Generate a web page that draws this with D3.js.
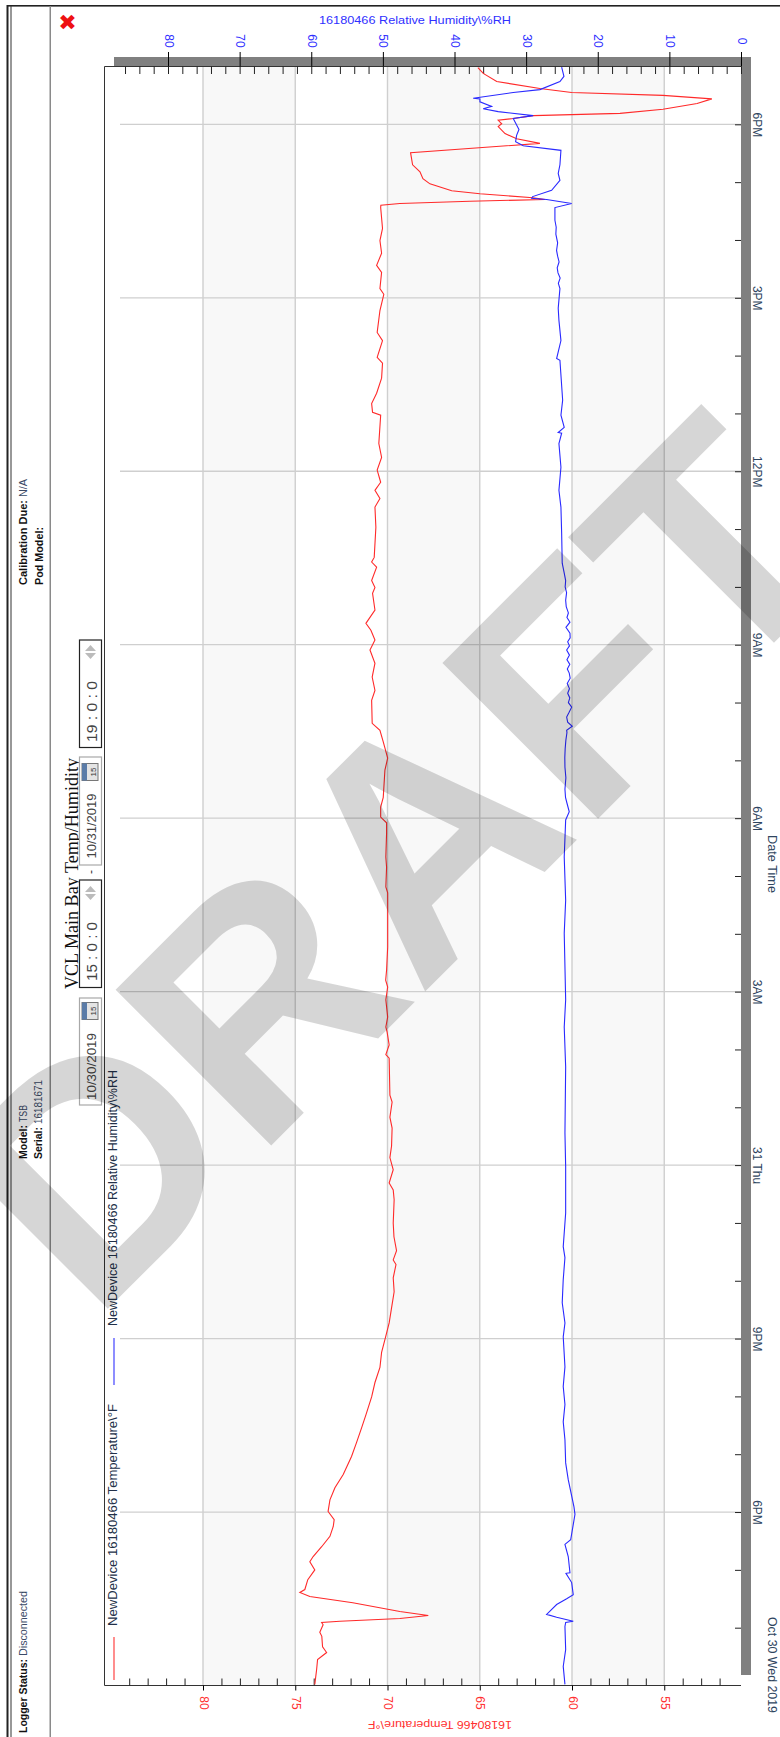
<!DOCTYPE html>
<html><head><meta charset="utf-8">
<script src="https://cdn.jsdelivr.net/npm/d3@7/dist/d3.min.js"></script>
<style>html,body{margin:0;padding:0;background:#fff;overflow:hidden}svg{display:block}text{font-family:"Liberation Sans",Arial,sans-serif}</style>
</head><body><div id="c"></div>
<script>
// hours since 10/30/2019 15:00
const tempHours=[.02,.28,.45,.57,.67,.85,.92,1.05,1.09,1.11,1.16,1.21,1.28,1.43,1.54,1.61,1.66,1.83,2.00,2.14,2.23,2.40,2.58,2.75,2.87,3.01,3.21,3.42,3.65,3.96,4.20,4.46,4.68,4.99,5.24,5.50,5.76,5.98,6.27,6.53,6.81,7.05,7.28,7.36,7.52,7.76,8.00,8.40,8.57,8.69,8.92,9.13,9.33,9.64,9.83,10.09,10.21,10.85,10.91,11.08,11.30,11.39,11.56,11.86,12.08,12.20,12.37,12.77,13.71,13.81,14.15,14.33,14.74,14.92,15.02,15.19,15.36,15.83,16.04,16.32,16.52,16.64,17.04,17.21,17.44,17.68,17.91,18.08,18.25,18.37,18.60,18.89,18.99,19.11,19.34,19.43,19.51,20.03,20.38,20.53,20.67,20.81,21.02,21.24,21.48,21.97,22.02,22.17,22.35,22.61,22.87,22.97,23.26,23.40,23.78,24.06,24.16,24.44,24.56,24.77,24.99,25.20,25.56,25.60,25.63,25.67,25.70,25.73,25.80,25.85,25.97,26.06,26.18,26.30,26.51,26.67,26.75,26.84,26.96,27.01,27.07,27.10,27.15,27.19,27.26,27.36,27.44,27.50,27.55,27.62,27.74,27.88,27.98];
const tempValues=[73.94,73.84,73.79,73.30,73.52,73.56,73.67,73.49,73.57,72.58,69.33,67.79,69.33,71.88,74.21,74.75,74.48,74.32,73.94,74.21,74.03,73.57,73.12,72.94,72.89,73.22,73.12,72.85,72.40,71.95,71.68,71.40,71.17,70.86,70.68,70.41,70.32,70.14,69.91,69.78,69.64,69.69,69.54,69.69,69.51,69.65,69.69,69.64,69.69,69.91,69.69,69.87,69.78,69.75,69.87,69.75,69.87,69.91,70.09,69.91,70.02,70.09,69.99,70.09,69.99,70.10,70.05,69.99,69.99,70.09,70.05,70.09,70.05,70.05,70.37,70.37,70.23,70.14,69.99,70.23,70.41,70.83,70.86,70.68,70.83,70.68,70.95,70.68,70.90,71.17,70.68,70.81,70.68,70.86,70.59,70.86,70.72,70.63,70.68,70.41,70.68,70.37,70.56,70.32,70.47,70.37,70.81,70.86,70.59,70.32,70.27,70.56,70.27,70.56,70.41,70.20,70.41,70.32,70.59,70.32,70.41,70.27,70.37,70.36,69.33,65.53,61.46,62.11,64.99,66.52,67.70,68.08,68.24,68.64,68.75,61.74,63.00,63.63,64.00,63.81,64.00,63.18,62.10,57.40,55.07,53.22,52.42,55.07,60.02,61.74,64.08,64.81,65.10];
const humHours=[.02,.33,.62,1.02,1.09,1.11,1.18,1.23,1.40,1.50,1.57,1.78,1.94,1.95,2.23,2.44,2.52,2.96,3.09,3.56,3.85,4.25,4.56,4.86,5.17,5.51,6.03,6.27,6.62,7.02,7.40,7.59,8.17,8.69,8.97,9.56,10.70,11.39,11.86,13.01,13.58,14.33,14.97,15.11,15.28,
15.36,15.5,15.7,15.88,16.05,16.2,16.35,16.48,16.52,16.59,16.66,16.75,16.83,16.92,17.0,17.08,17.16,17.24,17.33,17.42,17.51,17.58,17.66,17.74,17.82,17.91,17.98,18.05,18.12,18.20,18.30,18.39,18.47,18.55,18.66,18.77,18.9,19.0,19.11,19.25,
19.41,19.93,20.38,20.67,21.07,21.48,21.66,21.67,21.76,21.97,22.23,22.92,22.95,23.26,23.61,23.82,
24.16,24.25,24.34,24.43,24.52,24.62,24.72,24.82,24.95,25.1,25.22,25.34,
25.56,25.63,25.70,25.72,25.75,25.86,26.03,26.15,26.30,26.55,26.63,26.70,26.81,26.91,27.10,27.15,27.22,27.27,27.31,27.39,27.44,27.45,27.55,27.60,27.74,27.83,27.99];
const humValues=[24.58,24.82,24.48,24.58,24.48,23.42,25.74,27.14,25.74,24.34,23.42,23.64,24.44,23.88,24.12,24.58,23.78,23.18,23.32,24.12,24.48,24.58,24.82,24.58,24.82,24.58,24.82,24.58,24.96,24.82,24.58,24.82,24.48,24.48,24.48,24.58,24.48,24.68,24.48,24.68,24.48,24.68,24.48,23.98,24.34,
24.50,24.58,24.45,24.58,24.6,24.55,24.45,24.3,24.34,23.56,24.2,24.34,24.0,23.64,24.1,23.9,24.2,23.95,24.26,23.85,23.98,24.25,23.9,24.3,23.95,24.34,23.95,24.2,23.85,23.88,24.44,23.88,24.3,24.1,24.4,24.48,24.35,24.55,24.48,24.7,
24.96,25.04,25.14,25.42,25.14,25.42,25.04,25.52,24.68,25.14,24.90,25.28,25.74,25.14,25.42,25.52,
25.28,25.5,25.25,25.55,25.66,25.4,25.6,25.75,25.6,25.85,25.8,25.98,
25.98,23.64,27.14,29.23,29.09,26.44,25.28,25.52,25.28,25.14,30.40,31.47,31.33,31.00,31.80,29.01,33.90,35.99,34.82,36.45,36.45,37.39,31.80,28.07,25.28,24.72,25.04];
const tempMajor=[80,75,70,65,60,55];
const humMajor=[80,70,60,50,40,30,20,10,0];
const timeLabels=["","6PM","9PM","31 Thu","3AM","6AM","9AM","12PM","3PM","6PM"];
const bandPairs=[[80,75],[70,65],[60,55]];
const legendItems=[["NewDevice 16180466 Temperature\\°F","#ff3030"],["NewDevice 16180466 Relative Humidity\\%RH","#3030ff"]];

const W=780,H=1737,L=104.5,R=741,T=66.5,B=1685.5;
const svg=d3.select("#c").append("svg").attr("width",W).attr("height",H);
svg.append("rect").attr("width",W).attr("height",H).attr("fill","#fff");

const tScale=d3.scaleLinear().domain([60,80]).range([572,203]);
const hScale=d3.scaleLinear().domain([0,80]).range([741,168]);
const t0=new Date(2019,9,30,15);
const at=h=>new Date(+t0+h*3600e3);
const yScale=d3.scaleTime().domain([t0,at(28)]).range([B,T]);

function vtext(x,y,s,o){
  const t=svg.append("text").attr("transform",`translate(${x},${y}) rotate(${o.rot||0})`).text(s)
   .attr("text-anchor",o.anchor||"start").attr("dominant-baseline",o.base||"central")
   .attr("font-size",o.size||12).attr("fill",o.fill||"#223");
  if(o.family)t.style("font-family",o.family);
  if(o.weight)t.attr("font-weight",o.weight);
  if(o.len)t.attr("textLength",o.len).attr("lengthAdjust","spacingAndGlyphs");
  return t;
}
// page chrome
svg.append("rect").attr("x",7).attr("y",5).attr("width",W).attr("height",1.6).attr("fill","#222");
svg.append("rect").attr("x",6.5).attr("y",5).attr("width",2).attr("height",H).attr("fill","#222");
svg.append("rect").attr("x",10.5).attr("y",6).attr("width",1).attr("height",H).attr("fill","#333");
svg.append("rect").attr("x",49.5).attr("y",6).attr("width",1.5).attr("height",H).attr("fill","#8a8a8a");

// bands & grid
bandPairs.forEach(p=>svg.append("rect").attr("x",tScale(p[0])).attr("width",tScale(p[1])-tScale(p[0])).attr("y",T).attr("height",B-T).attr("fill","#f8f8f8"));
tempMajor.forEach(v=>svg.append("line").attr("x1",tScale(v)).attr("x2",tScale(v)).attr("y1",T).attr("y2",B).attr("stroke","#cfcfcf").attr("stroke-width",1.4));
d3.timeHour.range(at(3),at(28),3).forEach(d=>svg.append("line").attr("x1",120).attr("x2",R).attr("y1",yScale(d)).attr("y2",yScale(d)).attr("stroke","#cfcfcf").attr("stroke-width",1.3));

// gray bars
svg.append("rect").attr("x",114).attr("y",57).attr("width",637).attr("height",T-57).attr("fill","#808080");
svg.append("rect").attr("x",R).attr("y",57).attr("width",10).attr("height",1675-57).attr("fill","#808080");
svg.append("path").attr("d",`M${R},${T}H${L}V${B}H${R}`).attr("fill","none").attr("stroke","#333").attr("stroke-width",1);

function clean(g){g.select(".domain").remove();return g;}
// humidity axis
clean(svg.append("g").attr("transform",`translate(0,${T})`).call(d3.axisTop(hScale).tickValues(humMajor).tickSize(14.5).tickPadding(3).tickFormat(d3.format("d"))))
 .call(g=>{g.selectAll("line").attr("stroke","#000");g.selectAll("text").attr("fill","#3030ff").attr("font-size",12).attr("text-anchor","middle").attr("dy",null).attr("dominant-baseline","central").attr("y",null).attr("transform","translate(0,-25.5) rotate(90)");});
clean(svg.append("g").attr("transform",`translate(0,${T})`).call(d3.axisBottom(hScale).tickValues(d3.range(0,87,2)).tickSize(7.5).tickFormat("")))
 .selectAll("line").attr("stroke","#222");
vtext(415,20,"16180466 Relative Humidity\\%RH",{anchor:"middle",size:11.5,fill:"#3030ff",len:192});
// temp axis
clean(svg.append("g").attr("transform",`translate(0,${B})`).call(d3.axisBottom(tScale).tickValues(tempMajor).tickSize(5).tickFormat(d3.format("d"))))
 .call(g=>{g.selectAll("line").attr("stroke","#000");g.selectAll("text").attr("fill","#ff3030").attr("font-size",12).attr("dy",null).attr("y",null).attr("text-anchor","middle").attr("dominant-baseline","central").attr("transform","translate(0,17.5) rotate(90)");});
clean(svg.append("g").attr("transform",`translate(0,${B})`).call(d3.axisTop(tScale).tickValues(d3.range(52,85).filter(v=>v%5)).tickSize(7).tickFormat("")))
 .selectAll("line").attr("stroke","#222");
vtext(440,1725,"16180466 Temperature\\°F",{rot:180,anchor:"middle",size:11.5,fill:"#ff3030",len:144});
// time axis
clean(svg.append("g").attr("transform",`translate(${R},0)`).call(d3.axisLeft(yScale).tickValues(d3.timeHour.range(at(1),at(28),1)).tickSize(6).tickFormat("")))
 .selectAll("line").attr("stroke","#222");
clean(svg.append("g").attr("transform",`translate(${R},0)`).call(d3.axisRight(yScale).tickValues(d3.timeHour.range(at(3),at(28),3)).tickSize(0).tickFormat((d,i)=>timeLabels[i+1])))
 .call(g=>g.selectAll("text").attr("fill","#2f4560").attr("font-size",12).attr("x",null).attr("dy",null).attr("text-anchor","middle").attr("dominant-baseline","central").attr("transform","translate(16,0) rotate(90)"));
vtext(772,1665,"Oct 30 Wed 2019",{rot:90,anchor:"middle",size:12,fill:"#2f4560",len:96});
vtext(772,864,"Date Time",{rot:90,anchor:"middle",size:12,fill:"#2f4560",len:58});

// lines
const line=d3.line().x(d=>d[1]).y(d=>yScale(at(d[0])));
const mk=(hs,vs,sc)=>hs.map((h,i)=>[h,sc(vs[i])]);
svg.append("path").datum(mk(tempHours,tempValues,tScale)).attr("d",line).attr("fill","none").attr("stroke","#ff2a2a").attr("stroke-width",1.1);
svg.append("path").datum(mk(humHours,humValues,hScale)).attr("d",line).attr("fill","none").attr("stroke","#2a2aff").attr("stroke-width",1.1);

// legend
svg.append("line").attr("x1",114).attr("x2",114).attr("y1",1637).attr("y2",1680).attr("stroke",legendItems[0][1]).attr("stroke-width",1.1);
vtext(113,1626,legendItems[0][0],{rot:-90,size:12,fill:"#223048",len:222});
svg.append("line").attr("x1",114).attr("x2",114).attr("y1",1338).attr("y2",1385).attr("stroke",legendItems[1][1]).attr("stroke-width",1.1);
vtext(113,1326,legendItems[1][0],{rot:-90,size:12,fill:"#223048",len:256});

// info text
function info(x,y,b,v,lb,lv){
  vtext(x,y,b,{rot:-90,size:10,weight:"bold",fill:"#111",len:lb});
  if(v)vtext(x,y-lb-3,v,{rot:-90,size:10,fill:"#3a4a66",len:lv});
}
info(23,1733,"Logger Status:","Disconnected",74,65);
info(23,1159,"Model:","TSB",34,17);
info(38,1159,"Serial:","16181671",32,44);
info(23,585,"Calibration Due:","N/A",85,18);
info(39,585,"Pod Model:","",58,0);
// red X
vtext(67.5,22,"✖",{anchor:"middle",size:22,fill:"#ee1111",weight:"bold",family:"DejaVu Sans"});

// title & controls
vtext(71.5,989,"VCL Main Bay Temp/Humidity",{rot:-90,size:18,fill:"#111",family:"'Liberation Serif',serif",len:231});
function box(y1,y2,stroke){svg.append("rect").attr("x",79.5).attr("y",y1).attr("width",22).attr("height",y2-y1).attr("fill","#fff").attr("stroke",stroke).attr("stroke-width",1.2);}
function cal(yc){
  svg.append("rect").attr("x",82).attr("y",yc-8.5).attr("width",16).attr("height",17).attr("fill","#e4e4e4").attr("stroke","#777");
  svg.append("rect").attr("x",82).attr("y",yc-8.5).attr("width",5).attr("height",17).attr("fill","#5b7ca8");
  vtext(93,yc,"15",{rot:-90,anchor:"middle",size:8,fill:"#333"});
}
function spin(yc){
  svg.append("path").attr("d",`M85,${yc+1}h11l-5.5,6z`).attr("fill","#bbb");
  svg.append("path").attr("d",`M85,${yc-1}h11l-5.5,-6z`).attr("fill","#bbb");
}
box(998,1105,"#a8a8a8"); cal(1011); vtext(91.5,1100,"10/30/2019",{rot:-90,size:13,fill:"#444",len:67});
box(880,987.5,"#222"); vtext(91.5,981,"15 : 0 : 0",{rot:-90,size:14,fill:"#444",len:59}); spin(893);
vtext(91,872,"-",{rot:-90,anchor:"middle",size:12,fill:"#333"});
box(757,865,"#a8a8a8"); cal(772); vtext(91.5,858.5,"10/31/2019",{rot:-90,size:13,fill:"#444",len:65});
box(640,747.5,"#222"); vtext(91.5,742,"19 : 0 : 0",{rot:-90,size:14,fill:"#444",len:61}); spin(652);

// watermark
svg.append("text").text("DRAFT").attr("font-weight","bold").attr("font-size",320).attr("fill","#000").attr("fill-opacity",.16)
 .attr("transform","translate(92.7,1324) rotate(-45)");
</script></body></html>
